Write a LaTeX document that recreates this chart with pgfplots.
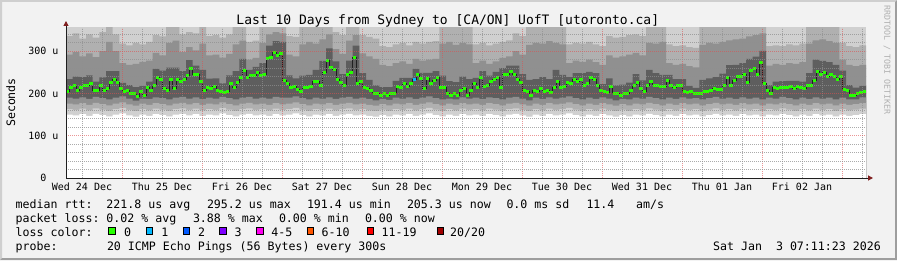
\documentclass[border=0pt]{standalone}
\usepackage{fontspec}
\setmainfont{DejaVu Sans Mono}
\usepackage{pgfplots}
\pgfplotsset{compat=1.18}
\usepackage{pgfplotstable}
\usetikzlibrary{arrows.meta}

\definecolor{bgc}{HTML}{F2F2F2}
\definecolor{shadeA}{HTML}{CFCFCF}
\definecolor{shadeB}{HTML}{9E9E9E}
\definecolor{gridc}{HTML}{8F8F8F}
\definecolor{mgridc}{HTML}{DE5050}
\definecolor{arrowc}{HTML}{801F1F}
\definecolor{axisc}{HTML}{1F1F1F}
\definecolor{sA}{HTML}{D0D0D0}
\definecolor{sB}{HTML}{B0B0B0}
\definecolor{sC}{HTML}{909090}
\definecolor{sD}{HTML}{5E5E5E}
\definecolor{medc}{HTML}{202020}
\definecolor{wmc}{HTML}{B0B0B0}
\definecolor{lc0}{HTML}{26FF00}
\definecolor{lc1}{HTML}{00B8FF}
\definecolor{lc2}{HTML}{0059FF}
\definecolor{lc3}{HTML}{7E00FF}
\definecolor{lc4}{HTML}{FF00F0}
\definecolor{lc5}{HTML}{FF5500}
\definecolor{lc6}{HTML}{FF0000}
\definecolor{lc7}{HTML}{A10000}

\newcommand{\lf}{\fontsize{11.6bp}{13bp}\selectfont}

% median rtt, one value per hour (x = hours since Wed 24 Dec 00:00), in microseconds
\pgfplotstableread{
x med
7.2 204
8.2 214
9.2 220
10.2 208
11.2 214
12.2 219
13.2 219
14.2 223
15.2 208
16.2 208
17.2 218
18.2 208
19.2 211
20.2 225
21.2 233
22.2 225
23.2 211
24.2 204
25.2 206
26.2 199
27.2 201
28.2 193
29.2 204
30.2 196
31.2 214
32.2 208
33.2 218
34.2 238
35.2 234
36.2 211
37.2 208
38.2 233
39.2 212
40.2 233
41.2 228
42.2 233
43.2 242
44.2 259
45.2 246
46.2 246
47.2 228
48.2 208
49.2 215
50.2 212
51.2 216
52.2 206
53.2 204
54.2 202
55.2 204
56.2 223
57.2 214
58.2 225
59.2 239
60.2 254
61.2 237
62.2 242
63.2 242
64.2 249
65.2 242
66.2 244
67.2 283
68.2 285
69.2 296
70.2 291
71.2 294
72.2 230
73.2 223
74.2 214
75.2 216
76.2 210
77.2 204
78.2 214
79.2 214
80.2 216
81.2 228
82.2 228
83.2 220
84.2 249
85.2 279
86.2 261
87.2 256
88.2 234
89.2 226
90.2 220
91.2 246
92.2 250
93.2 285
94.2 223
95.2 228
96.2 214
97.2 212
98.2 206
99.2 199
100.2 199
101.2 195
102.2 201
103.2 196
104.2 201
105.2 201
106.2 216
107.2 214
108.2 223
109.2 216
110.2 223
111.2 234
112.2 244
113.2 235
114.2 211
115.2 235
116.2 223
117.2 230
118.2 239
119.2 214
120.2 214
121.2 201
122.2 196
123.2 199
124.2 196
125.2 206
126.2 212
127.2 196
128.2 206
129.2 223
130.2 214
131.2 239
132.2 216
133.2 220
134.2 228
135.2 234
136.2 237
137.2 214
138.2 246
139.2 246
140.2 252
141.2 246
142.2 234
143.2 226
144.2 208
145.2 204
146.2 196
147.2 206
148.2 204
149.2 211
150.2 204
151.2 206
152.2 203
153.2 214
154.2 228
155.2 214
156.2 216
157.2 225
158.2 223
159.2 234
160.2 228
161.2 234
162.2 220
163.2 223
164.2 237
165.2 234
166.2 220
167.2 208
168.2 204
169.2 202
170.2 216
171.2 199
172.2 199
173.2 195
174.2 201
175.2 199
176.2 206
177.2 219
178.2 226
179.2 211
180.2 204
181.2 220
182.2 228
183.2 220
184.2 218
185.2 216
186.2 216
187.2 230
188.2 219
189.2 214
190.2 220
191.2 220
192.2 204
193.2 202
194.2 204
195.2 199
196.2 199
197.2 199
198.2 204
199.2 204
200.2 208
201.2 211
202.2 210
203.2 210
204.2 219
205.2 239
206.2 220
207.2 230
208.2 240
209.2 240
210.2 244
211.2 226
212.2 254
213.2 259
214.2 246
215.2 273
216.2 223
217.2 206
218.2 199
219.2 214
220.2 211
221.2 215
222.2 215
223.2 215
224.2 216
225.2 212
226.2 216
227.2 214
228.2 211
229.2 220
230.2 218
231.2 230
232.2 252
233.2 244
234.2 249
235.2 240
236.2 246
237.2 240
238.2 234
239.2 240
240.2 210
241.2 206
242.2 196
243.2 195
244.2 200
245.2 203
246.2 204
247.2 204
}\medtab

% smoke: sorted-ping levels per 2 h block (lower lo1..lo4, upper hi4..hi2)
\pgfplotstableread{
x lo1 lo2 lo3 lo4 hi4 hi3 hi2
7.2 150 163 176 190 234 292 336
9.2 148 161 174 188 240 298 342
11.2 151 164 177 191 239 288 330
13.2 147 160 173 187 243 295 340
15.2 152 165 178 192 228 286 332
17.2 149 162 175 189 238 300 345
19.2 146 159 172 186 253 322 372
21.2 150 163 176 190 253 300 340
23.2 153 166 179 193 225 272 318
25.2 148 161 174 188 220 268 314
27.2 145 158 171 183 215 270 320
29.2 150 163 176 188 218 275 316
31.2 147 160 173 187 228 278 322
33.2 151 164 177 191 258 296 338
35.2 149 162 175 189 254 290 335
37.2 146 159 172 186 261 320 368
39.2 150 163 176 190 261 325 375
41.2 152 165 178 192 253 298 340
43.2 148 161 174 188 279 310 345
45.2 151 164 177 191 266 302 342
47.2 147 160 173 187 256 318 365
49.2 150 163 176 190 235 290 336
51.2 148 161 174 188 236 292 338
53.2 153 166 179 192 224 285 332
55.2 149 162 175 189 243 294 340
57.2 146 159 172 186 253 316 362
59.2 150 163 176 190 282 325 370
61.2 152 165 178 192 256 280 322
63.2 148 161 174 188 263 284 325
65.2 150 163 176 190 272 320 365
67.2 147 160 173 188 313 340 380
69.2 151 164 177 192 324 345 385
71.2 148 161 174 190 322 342 380
73.2 150 163 176 190 243 292 336
75.2 153 166 179 193 236 288 334
77.2 149 162 175 189 242 316 362
79.2 146 159 172 186 244 322 370
81.2 150 163 176 190 256 318 365
83.2 148 161 174 188 277 328 375
85.2 151 164 177 191 307 340 385
87.2 147 160 173 187 276 305 345
89.2 150 163 176 190 246 294 338
91.2 152 165 178 192 278 325 372
93.2 148 161 174 188 313 338 380
95.2 150 163 176 190 248 295 338
97.2 147 160 173 187 232 288 334
99.2 145 158 171 184 219 282 330
101.2 149 162 175 187 215 268 312
103.2 146 159 172 185 215 265 310
105.2 150 163 176 190 230 272 316
107.2 148 161 174 188 237 276 320
109.2 151 164 177 191 237 270 314
111.2 147 160 173 187 258 282 322
113.2 150 163 176 190 249 278 318
115.2 153 166 179 193 249 280 322
117.2 149 162 175 189 253 282 324
119.2 146 159 172 186 242 318 365
121.2 150 163 176 188 229 322 370
123.2 147 160 173 186 227 315 362
125.2 151 164 177 191 240 320 368
127.2 148 161 174 188 234 316 360
129.2 150 163 176 190 237 272 316
131.2 147 160 173 187 253 278 320
133.2 151 164 177 191 242 270 314
135.2 149 162 175 189 251 276 318
137.2 146 159 172 186 260 284 322
139.2 150 163 176 190 266 288 326
141.2 152 165 178 192 266 300 342
143.2 148 161 174 188 246 292 336
145.2 145 158 171 184 232 315 362
147.2 150 163 176 190 234 320 368
149.2 147 160 173 187 239 318 365
151.2 151 164 177 191 234 324 372
153.2 148 161 174 188 256 320 366
155.2 150 163 176 190 244 316 362
157.2 153 166 179 193 239 272 316
159.2 149 162 175 189 248 278 320
161.2 146 159 172 186 248 275 318
163.2 150 163 176 190 251 280 322
165.2 147 160 173 187 248 274 316
167.2 151 164 177 191 222 268 312
169.2 148 161 174 188 236 290 336
171.2 145 158 171 184 219 285 332
173.2 149 162 175 187 221 288 334
175.2 146 159 172 186 226 292 338
177.2 150 163 176 190 246 296 340
179.2 148 161 174 188 231 290 336
181.2 152 165 178 192 256 320 366
183.2 149 162 175 189 248 318 364
185.2 146 159 172 186 244 322 370
187.2 150 163 176 190 244 272 316
189.2 147 160 173 187 234 268 312
191.2 151 164 177 191 234 270 314
193.2 148 161 174 188 218 265 310
195.2 150 163 176 189 213 262 308
197.2 146 159 172 186 232 315 362
199.2 149 162 175 189 236 320 368
201.2 152 165 178 192 239 318 365
203.2 148 161 174 188 247 322 370
205.2 150 163 176 190 267 326 372
207.2 147 160 173 187 268 328 375
209.2 151 164 177 191 272 330 378
211.2 148 161 174 188 282 335 380
213.2 150 163 176 190 287 338 385
215.2 146 159 172 186 301 342 390
217.2 150 163 176 190 220 266 312
219.2 148 161 174 188 228 270 314
221.2 152 165 178 192 229 268 312
223.2 149 162 175 189 230 272 316
225.2 146 159 172 186 230 270 314
227.2 150 163 176 190 228 274 318
229.2 147 160 173 187 248 318 364
231.2 151 164 177 191 280 326 372
233.2 148 161 174 188 277 328 375
235.2 150 163 176 190 274 324 370
237.2 146 159 172 186 268 320 366
239.2 150 163 176 190 254 280 320
241.2 147 160 173 186 220 268 312
243.2 149 162 175 186 214 265 310
245.2 151 164 177 191 218 268 314
247.2 151 164 177 191 218 268 314
}\smoketab

\begin{document}
\frenchspacing
\begin{tikzpicture}[x=1bp,y=1bp]
\useasboundingbox (0,0) rectangle (897,260);
\fill[bgc] (0,0) rectangle (897,260);
\fill[shadeA] (0,0) -- (0,260) -- (897,260) -- (895,258) -- (2,258) -- (2,2) -- cycle;
\fill[shadeB] (0,0) -- (897,0) -- (897,260) -- (895,258) -- (895,2) -- (2,2) -- cycle;

\begin{axis}[
  at={(66bp,82bp)}, anchor=south west,
  width=800bp, height=150bp, scale only axis,
  xmin=7.2, xmax=247.2, ymin=0, ymax=355,
  axis x line=bottom, axis y line=left,
  axis line style={draw=axisc, line width=1bp},
  x axis line style={-{Triangle[color=arrowc,length=5bp,width=5bp]}, shorten >=-7bp},
  y axis line style={-{Triangle[color=arrowc,length=5bp,width=5bp]}, shorten >=-7bp},
  axis on top,
  axis background/.style={fill=white},
  xtick={24,48,...,240}, xticklabels={},
  minor xtick={12,18,30,36,42,54,60,66,78,84,90,102,108,114,126,132,138,150,156,162,174,180,186,198,204,210,222,228,234,246},
  extra x ticks={12,36,...,228},
  extra x tick labels={Wed 24 Dec,Thu 25 Dec,Fri 26 Dec,Sat 27 Dec,Sun 28 Dec,Mon 29 Dec,Tue 30 Dec,Wed 31 Dec,Thu 01 Jan,Fri 02 Jan},
  extra x tick style={grid=none},
  ytick={0,100,200,300},
  yticklabels={0\phantom{~u},100~u,200~u,300~u},
  minor ytick={20,40,60,80,120,140,160,180,220,240,260,280,320,340},
  grid=both,
  major grid style={draw=mgridc, draw opacity=0.6, line width=1bp, dash pattern=on 1bp off 1bp},
  minor grid style={draw=gridc, draw opacity=0.75, line width=1bp, dash pattern=on 1bp off 1bp},
  major tick length=0pt, minor tick length=0pt,
  tick style={draw=none},
  ticklabel style={font=\fontsize{10bp}{12bp}\selectfont, inner sep=0pt},
  xticklabel style={anchor=base, yshift=-12.5bp},
  yticklabel style={anchor=east, xshift=-7.3bp},
]
\addplot[fill=sA, draw=none] coordinates {(7.2,400) (247.2,400)} \closedcycle;
\addplot[fill=sB, draw=none, const plot] table[x=x,y=hi2] {\smoketab} \closedcycle;
\addplot[fill=sC, draw=none, const plot] table[x=x,y=hi3] {\smoketab} \closedcycle;
\addplot[fill=sD, draw=none, const plot] table[x=x,y=hi4] {\smoketab} \closedcycle;
\addplot[fill=sC, draw=none, const plot] table[x=x,y=lo4] {\smoketab} \closedcycle;
\addplot[fill=sB, draw=none, const plot] table[x=x,y=lo3] {\smoketab} \closedcycle;
\addplot[fill=sA, draw=none, const plot] table[x=x,y=lo2] {\smoketab} \closedcycle;
\addplot[fill=white, draw=none, const plot] table[x=x,y=lo1] {\smoketab} \closedcycle;
\addplot[draw=medc, line width=1bp, const plot] table[x=x,y=med] {\medtab};
\addplot[draw=lc0, line width=3bp, jump mark left] table[x=x,y=med] {\medtab};
\addplot[draw=lc1, line width=3bp, jump mark left] coordinates {(111.2,234) (112.2,234)};
\end{axis}

\node[anchor=base, inner sep=0pt, font=\fontsize{13bp}{15bp}\selectfont] at (447.8,236) {Last 10 Days from Sydney to [CA/ON] UofT [utoronto.ca]};
\node[rotate=90, inner sep=0pt, font=\lf] at (10.8,157.5) {Seconds};
\node[rotate=-90, inner sep=0pt, text=wmc, font=\fontsize{8.3bp}{10bp}\selectfont] at (887,200) {RRDTOOL / TOBI OETIKER};

\begin{scope}[every node/.style={anchor=base west, inner sep=0pt, font=\lf}]
\node at (15.5,51.7) {median rtt:~~221.8~us~avg};
\node at (206.8,51.7) {295.2~us~max};
\node at (306.8,51.7) {191.4~us~min};
\node at (406.8,51.7) {205.3~us~now};
\node at (506.3,51.7) {0.0~ms~sd};
\node at (586.3,51.7) {11.4};
\node at (636,51.7) {am/s};
\node at (15.5,37.7) {packet loss:~0.02~\%~avg};
\node at (192.8,37.7) {3.88~\%~max};
\node at (278.8,37.7) {0.00~\%~min};
\node at (364.8,37.7) {0.00~\%~now};
\node at (15.5,24) {loss color:};
\node at (123.8,24) {0};
\node at (161.2,24) {1};
\node at (197.8,24) {2};
\node at (234.5,24) {3};
\node at (271.2,24) {4-5};
\node at (321.5,24) {6-10};
\node at (381.5,24) {11-19};
\node at (450,24) {20/20};
\node at (15.5,10) {probe:};
\node at (106.8,10) {20~ICMP~Echo~Pings~(56~Bytes)~every~300s};
\end{scope}
\node[anchor=base east, inner sep=0pt, font=\lf] at (881,10) {Sat~Jan~~3~07:11:23~2026};

\filldraw[fill=lc0, draw=black, line width=1bp] (108.8,25.5) rectangle (115.4,32.1);
\filldraw[fill=lc1, draw=black, line width=1bp] (146.2,25.5) rectangle (152.8,32.1);
\filldraw[fill=lc2, draw=black, line width=1bp] (183.2,25.5) rectangle (189.8,32.1);
\filldraw[fill=lc3, draw=black, line width=1bp] (219.8,25.5) rectangle (226.4,32.1);
\filldraw[fill=lc4, draw=black, line width=1bp] (256.5,25.5) rectangle (263.1,32.1);
\filldraw[fill=lc5, draw=black, line width=1bp] (307.2,25.5) rectangle (313.8,32.1);
\filldraw[fill=lc6, draw=black, line width=1bp] (367.2,25.5) rectangle (373.8,32.1);
\filldraw[fill=lc7, draw=black, line width=1bp] (437.2,25.5) rectangle (443.8,32.1);
\end{tikzpicture}
\end{document}
